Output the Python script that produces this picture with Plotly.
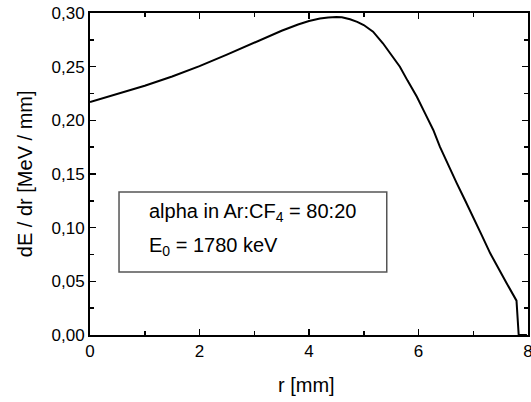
import plotly.graph_objects as go

r_mm = [0.0, 0.5, 1.0, 1.5, 2.0, 2.5, 3.0, 3.25, 3.5, 3.8, 4.0, 4.2, 4.35, 4.5, 4.6, 4.75, 4.88, 5.0, 5.17, 5.35, 5.5, 5.66, 5.8, 5.97, 6.12, 6.27, 6.39, 6.5, 6.7, 6.85, 7.0, 7.15, 7.31, 7.46, 7.61, 7.79, 7.83, 7.98]
dEdr = [0.217, 0.2243, 0.2322, 0.2408, 0.2505, 0.2612, 0.2727, 0.2782, 0.2835, 0.2893, 0.2925, 0.2948, 0.2959, 0.2962, 0.2960, 0.2942, 0.2918, 0.2888, 0.2826, 0.2718, 0.2612, 0.2500, 0.2370, 0.2220, 0.2065, 0.1910, 0.1755, 0.1630, 0.1413, 0.1255, 0.1100, 0.0935, 0.0761, 0.0615, 0.0482, 0.0320, 0.0, 0.0]

x_ticks = [0, 2, 4, 6, 8]
y_ticks = [0.0, 0.05, 0.10, 0.15, 0.20, 0.25, 0.30]

FONT = "Liberation Sans, Arial, sans-serif"

fig = go.Figure()
fig.add_trace(go.Scatter(x=r_mm, y=dEdr, mode="lines",
                         line=dict(color="black", width=2),
                         showlegend=False, hoverinfo="skip"))

axis_common = dict(
    showgrid=False, zeroline=False, showline=True, linecolor="black", linewidth=2,
    mirror="allticks", ticks="inside", ticklen=6, tickwidth=1.5, tickcolor="black",
    tickfont=dict(family=FONT, size=17, color="black"), automargin=False,
    ticklabeloverflow="allow",
)

fig.update_xaxes(range=[0, 8], tickvals=x_ticks, ticktext=[str(v) for v in x_ticks],
                 minor=dict(dtick=1, ticks="inside", ticklen=4, tickwidth=1.5, tickcolor="black"),
                 **axis_common)
fig.update_yaxes(range=[0, 0.30], tickvals=y_ticks, tickformat=".2f",
                 minor=dict(dtick=0.025, ticks="inside", ticklen=4, tickwidth=1.5, tickcolor="black"),
                 **axis_common)

# axis titles
fig.add_annotation(x=0.495, y=-0.155, xref="paper", yref="paper", xanchor="center", yanchor="middle",
                   text="r [mm]", showarrow=False, font=dict(family=FONT, size=20, color="black"))
fig.add_annotation(x=-0.148, y=0.5, xref="paper", yref="paper", xanchor="center", yanchor="middle",
                   text="dE / dr [MeV / mm]", textangle=-90, showarrow=False,
                   font=dict(family=FONT, size=20, color="black"))

fig.add_shape(type="rect", xref="x", yref="y", x0=0.53, x1=5.42, y0=0.0587, y1=0.1332,
              line=dict(color="#555555", width=1.5), fillcolor="rgba(0,0,0,0)")
fig.add_annotation(x=1.04, y=0.1137, xref="x", yref="y", xanchor="left", yanchor="middle",
                   text="alpha in Ar:CF<sub>4</sub> = 80:20", showarrow=False,
                   font=dict(family=FONT, size=20, color="black"))
fig.add_annotation(x=1.04, y=0.082, xref="x", yref="y", xanchor="left", yanchor="middle",
                   text="E<sub>0</sub> = 1780 keV", showarrow=False,
                   font=dict(family=FONT, size=20, color="black"))

fig.update_layout(width=531, height=402, margin=dict(l=90, r=3, t=13, b=67),
                  paper_bgcolor="white", plot_bgcolor="white", separators=",.",
                  font=dict(family=FONT, color="black"), hovermode=False)

# remove the browser's default 8px body margin so the figure fills the window exactly
fig.write_html("out.html", config={"displayModeBar": False, "staticPlot": True},
               post_script="document.body.style.margin='0';document.body.style.overflow='hidden';")
